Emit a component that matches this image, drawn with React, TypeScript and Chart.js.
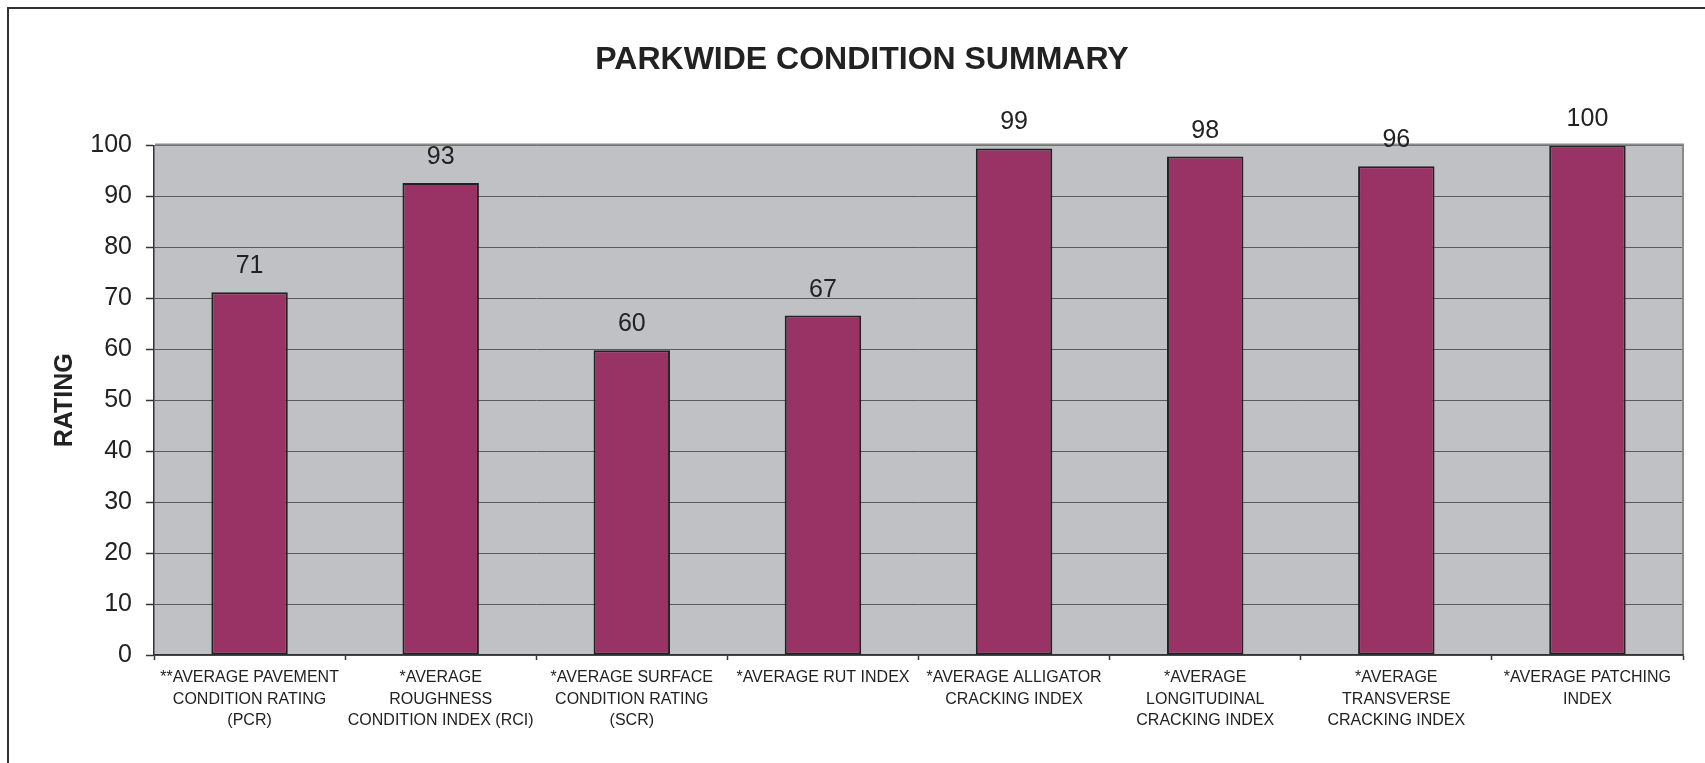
import React, { useEffect, useRef } from "react";
import { Chart, registerables } from "chart.js";

Chart.register(...registerables);

const TITLE = "PARKWIDE CONDITION SUMMARY";
const Y_TITLE = "RATING";

const categories: string[][] = [
  ["**AVERAGE PAVEMENT", "CONDITION RATING", "(PCR)"],
  ["*AVERAGE", "ROUGHNESS", "CONDITION INDEX (RCI)"],
  ["*AVERAGE SURFACE", "CONDITION RATING", "(SCR)"],
  ["*AVERAGE RUT INDEX"],
  ["*AVERAGE ALLIGATOR", "CRACKING INDEX"],
  ["*AVERAGE", "LONGITUDINAL", "CRACKING INDEX"],
  ["*AVERAGE", "TRANSVERSE", "CRACKING INDEX"],
  ["*AVERAGE PATCHING", "INDEX"],
];

const ratings: number[] = [71.2, 92.6, 59.8, 66.6, 99.4, 97.8, 95.9, 100];

const Y_MIN = 0;
const Y_MAX = 100;
const Y_STEP = 10;

const FONT = "'Liberation Sans', Arial, sans-serif";

const framePlugin = {
  id: "frame",
  beforeDraw(chart: any) {
    const { ctx, chartArea, width, height } = chart;
    ctx.save();
    ctx.fillStyle = "#ffffff";
    ctx.fillRect(0, 0, width, height);
    ctx.strokeStyle = "#333333";
    ctx.lineWidth = 2;
    ctx.strokeRect(8, 8, width + 100, height + 100);
    ctx.fillStyle = "#c0c1c5";
    ctx.fillRect(
      chartArea.left,
      chartArea.top,
      chartArea.right - chartArea.left,
      chartArea.bottom - chartArea.top
    );
    ctx.restore();
  },
  beforeDatasetsDraw(chart: any) {
    const { ctx, chartArea } = chart;
    ctx.save();
    ctx.strokeStyle = "#8a8a8a";
    ctx.lineWidth = 2;
    ctx.beginPath();
    ctx.moveTo(chartArea.left + 1, chartArea.top - 1);
    ctx.lineTo(chartArea.right, chartArea.top - 1);
    ctx.lineTo(chartArea.right, chartArea.bottom - 1);
    ctx.stroke();
    ctx.restore();
  },
};

const valueLabelPlugin = {
  id: "valueLabels",
  afterDatasetsDraw(chart: any) {
    const { ctx } = chart;
    const meta = chart.getDatasetMeta(0);
    const data = chart.data.datasets[0].data as number[];
    ctx.save();
    ctx.font = `25px ${FONT}`;
    ctx.fillStyle = "#222222";
    ctx.textAlign = "center";
    ctx.textBaseline = "alphabetic";
    meta.data.forEach((bar: any, i: number) => {
      ctx.fillText(String(Math.round(data[i])), bar.x, bar.y - 19);
    });
    ctx.restore();
  },
};

export default function App() {
  const canvasRef = useRef<HTMLCanvasElement | null>(null);

  useEffect(() => {
    if (!canvasRef.current) return;
    const chart = new Chart(canvasRef.current, {
      type: "bar",
      data: {
        labels: categories,
        datasets: [
          {
            data: ratings,
            backgroundColor: "#993366",
            borderColor: "#222222",
            borderWidth: 2,
            borderSkipped: false,
            barPercentage: 0.4,
            categoryPercentage: 1.0,
          },
        ],
      },
      options: {
        responsive: false,
        animation: false,
        devicePixelRatio: 1,
        layout: { padding: { left: 41, right: 22, top: 0, bottom: 0 } },
        plugins: {
          legend: { display: false },
          tooltip: { enabled: false },
          title: {
            display: true,
            text: TITLE,
            color: "#222222",
            font: { family: FONT, size: 32, weight: "bold" },
            padding: { top: 41, bottom: 66 },
          },
        },
        scales: {
          x: {
            afterFit: (scale: any) => {
              scale.height = 108;
            },
            grid: {
              offset: true,
              drawOnChartArea: false,
              drawTicks: true,
              tickLength: 5,
              tickColor: "#333333",
              tickWidth: 1.5,
            },
            border: { display: true, color: "#333333", width: 1.5 },
            ticks: {
              autoSkip: false,
              maxRotation: 0,
              minRotation: 0,
              padding: 7,
              color: "#222222",
              font: { family: FONT, size: 16, lineHeight: 1.34 },
            },
          },
          y: {
            min: Y_MIN,
            max: Y_MAX,
            afterFit: (scale: any) => {
              scale.width = 113;
            },
            grid: {
              color: "#5a5a5a",
              lineWidth: 1,
              drawTicks: true,
              tickLength: 8,
              tickColor: "#333333",
              tickWidth: 1.5,
            },
            border: { display: true, color: "#333333", width: 1.5 },
            ticks: {
              stepSize: Y_STEP,
              padding: 14,
              color: "#222222",
              font: { family: FONT, size: 25 },
            },
            title: {
              display: true,
              text: Y_TITLE,
              color: "#222222",
              font: { family: FONT, size: 25, weight: "bold" },
              padding: { top: 9, bottom: 0 },
            },
          },
        },
      },
      plugins: [framePlugin, valueLabelPlugin],
    } as any);
    return () => chart.destroy();
  }, []);

  return (
    <div style={{ position: "fixed", left: 0, top: 0, width: 1705, height: 763, overflow: "hidden" }}>
      <canvas ref={canvasRef} width={1705} height={763} style={{ display: "block" }} />
    </div>
  );
}
